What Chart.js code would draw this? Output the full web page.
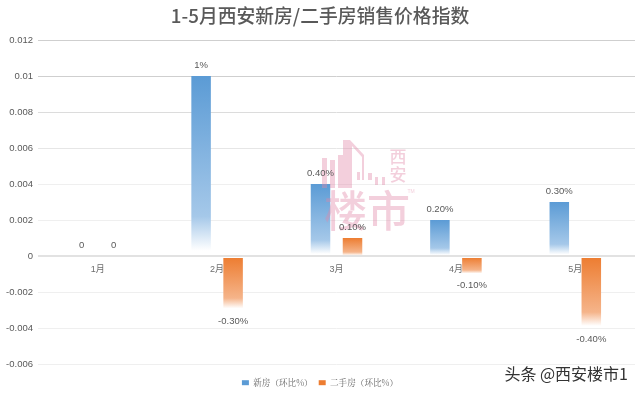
<!DOCTYPE html>
<html>
<head>
<meta charset="utf-8">
<script src="https://cdn.jsdelivr.net/npm/chart.js@4"></script>
<style>
  html, body { margin: 0; padding: 0; background: #fff; }
  #wrap { width: 640px; height: 394px; }
</style>
</head>
<body>
<div id="wrap"><canvas id="chart" width="640" height="394"></canvas></div>
<script>
const categories = ['1月', '2月', '3月', '4月', '5月'];
const newHomes = [0, 0.01, 0.004, 0.002, 0.003];
const resaleHomes = [0, -0.003, 0.001, -0.001, -0.004];
const newHomeLabels = ['0', '1%', '0.40%', '0.20%', '0.30%'];
const resaleHomeLabels = ['0', '-0.30%', '0.10%', '-0.10%', '-0.40%'];
const seriesNames = ['新房（环比%）', '二手房（环比%）'];
const chartTitle = '1-5月西安新房/二手房销售价格指数';
const stampTexts = ['楼市', '西', '安', 'TM', '头条 @西安楼市1'];

const CJK = '"Liberation Sans", "Noto Sans CJK SC", sans-serif';
const BLUE = '#5b9bd5';
const ORANGE = '#ed7d31';

// solid at the top of the bar, washed out to white at the bottom
function fadeFill(color, light) {
  return function (ctx) {
    const chart = ctx.chart;
    if (ctx.parsed === undefined || !chart.scales.y || !ctx.parsed.y) return color;
    const y0 = chart.scales.y.getPixelForValue(0);
    const y1 = chart.scales.y.getPixelForValue(ctx.parsed.y);
    const top = Math.min(y0, y1);
    const bottom = Math.max(y0, y1);
    const g = chart.ctx.createLinearGradient(0, top, 0, bottom);
    if (ctx.parsed.y < 0) {
      // small gap under the zero line
      const gap = 1.5 / (bottom - top);
      g.addColorStop(0, '#ffffff');
      g.addColorStop(gap, '#ffffff');
      g.addColorStop(gap, color);
    } else {
      g.addColorStop(0, color);
    }
    g.addColorStop(0.78, light);
    g.addColorStop(0.97, '#ffffff');
    g.addColorStop(1, '#ffffff');
    return g;
  };
}

// value labels, next to the end of each bar
const barLabels = {
  id: 'barLabels',
  afterDatasetsDraw(chart) {
    const c = chart.ctx;
    const texts = [newHomeLabels, resaleHomeLabels];
    c.save();
    c.font = '9.5px ' + CJK;
    c.fillStyle = '#595959';
    c.textAlign = 'center';
    c.textBaseline = 'middle';
    chart.data.datasets.forEach((ds, i) => {
      chart.getDatasetMeta(i).data.forEach((bar, j) => {
        const off = ds.data[j] < 0 ? 11 : -11;
        c.fillText(texts[i][j], bar.x, bar.y + off);
      });
    });
    c.restore();
  }
};

// pink logo in the middle and the account name in the corner
const stamp = {
  id: 'stamp',
  afterDatasetsDraw(chart) {
    const c = chart.ctx;
    c.save();
    c.fillStyle = 'rgba(225,135,167,0.4)';
    c.textAlign = 'center';
    c.textBaseline = 'middle';
    c.font = '500 43px "Noto Sans CJK SC"';
    c.fillText(stampTexts[0], 367, 211);
    c.font = '500 17px "Noto Sans CJK SC"';
    c.fillText(stampTexts[1], 398, 157);
    c.fillText(stampTexts[2], 398, 175);
    c.font = '5px "Liberation Sans"';
    c.fillText(stampTexts[3], 411, 192);
    c.fillRect(322, 158, 5, 30);
    c.fillRect(330, 160, 5, 28);
    c.beginPath();
    c.moveTo(338, 155); c.lineTo(343, 155); c.lineTo(343, 140); c.lineTo(350, 140);
    c.lineTo(364, 155); c.lineTo(364, 180); c.lineTo(362, 180); c.lineTo(362, 157);
    c.lineTo(352, 146); c.lineTo(352, 188); c.lineTo(338, 188); c.closePath();
    c.fill();
    c.fillRect(357, 172, 3, 8);
    c.fillRect(368, 173, 4, 7);
    c.fillRect(375, 177, 3, 8);
    c.fillRect(382, 177, 3, 8);
    c.restore();

    c.save();
    c.font = '16px "Noto Sans CJK SC"';
    c.textAlign = 'right';
    c.textBaseline = 'middle';
    c.lineWidth = 2.5;
    c.strokeStyle = 'rgba(255,255,255,0.9)';
    c.fillStyle = '#333333';
    c.strokeText(stampTexts[4], 628, 374);
    c.fillText(stampTexts[4], 628, 374);
    c.restore();
  }
};

new Chart(document.getElementById('chart').getContext('2d'), {
  type: 'bar',
  data: {
    labels: categories,
    datasets: [
      { label: seriesNames[0], data: newHomes, backgroundColor: fadeFill(BLUE, '#a5c8e9') },
      { label: seriesNames[1], data: resaleHomes, backgroundColor: fadeFill(ORANGE, '#f5b48a') }
    ]
  },
  options: {
    responsive: false,
    animation: false,
    categoryPercentage: 0.536,
    barPercentage: 0.61,
    layout: { padding: { left: 5, right: 5, top: 0, bottom: -3 } },
    plugins: {
      title: {
        display: true,
        text: chartTitle,
        color: '#595959',
        font: { family: '"Noto Sans CJK SC", sans-serif', size: 18.8, weight: '500' },
        padding: { top: 5, bottom: 12.5 }
      },
      legend: {
        position: 'bottom',
        // empty legend title keeps the plot clear of the legend row
        title: { display: true, text: '', font: { size: 7 }, padding: 0 },
        labels: {
          boxWidth: 7,
          boxHeight: 5,
          padding: 6,
          color: '#8c8c8c',
          font: { family: '"Noto Serif CJK SC", "Noto Sans CJK SC", sans-serif', size: 8.6 },
          generateLabels() {
            return seriesNames.map((t, i) => ({
              text: t,
              fillStyle: i === 0 ? BLUE : ORANGE,
              strokeStyle: 'transparent',
              lineWidth: 0,
              datasetIndex: i
            }));
          }
        }
      },
      tooltip: { enabled: false }
    },
    scales: {
      x: {
        position: { y: 0 },
        grid: { display: false, drawTicks: false },
        border: { display: false },
        ticks: { color: '#6e6e6e', font: { family: CJK, size: 9 }, padding: 8, maxRotation: 0 }
      },
      y: {
        min: -0.006,
        max: 0.012,
        afterFit(scale) { scale.width = 33; },
        grid: {
          drawTicks: false,
          lineWidth: ctx => (ctx.tick && ctx.tick.value === 0 ? 2 : 1),
          color(ctx) {
            const v = ctx.tick ? ctx.tick.value : 0;
            if (v > 0.0095) return '#cfcfcf';
            if (v > 0.0075) return '#dcdcdc';
            if (v > 0.0055) return '#e6e6e6';
            if (Math.abs(v) < 1e-6) return '#e2e2e2';
            return '#efefef';
          }
        },
        border: { display: false },
        ticks: {
          stepSize: 0.002,
          padding: 5,
          color: '#595959',
          font: { family: CJK, size: 9.5 },
          callback: v => String(Number(v.toFixed(3)))
        }
      }
    }
  },
  plugins: [stamp, barLabels]
});
</script>
</body>
</html>
